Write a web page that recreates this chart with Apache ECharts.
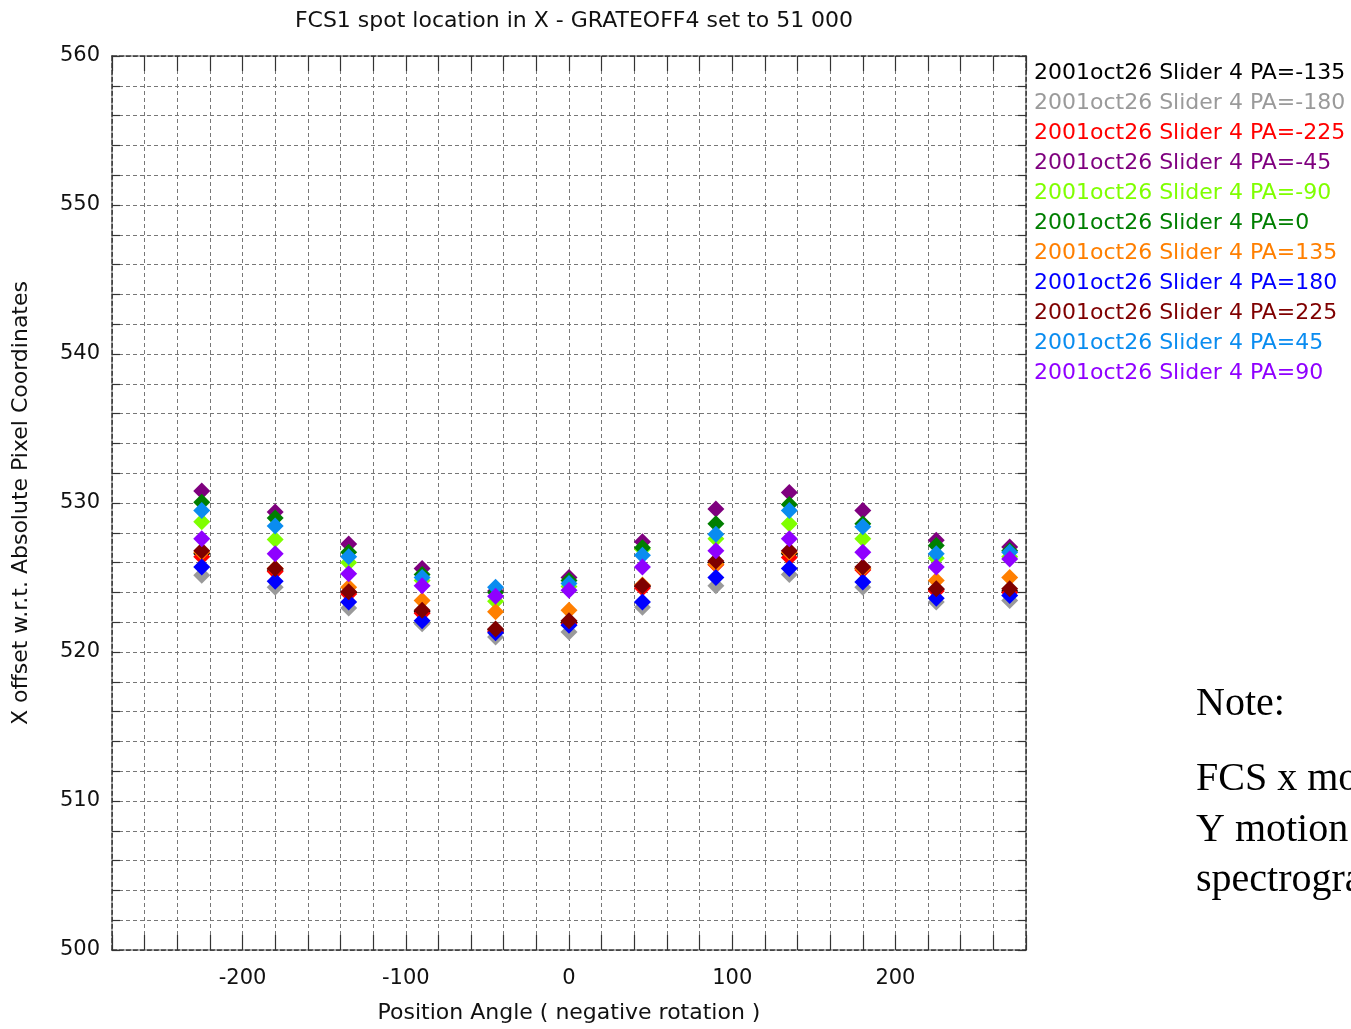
<!DOCTYPE html>
<html>
<head>
<meta charset="utf-8">
<script src="https://cdn.jsdelivr.net/npm/echarts@6/dist/echarts.min.js"></script>
<style>
html,body{margin:0;padding:0;background:#fff;}
#chart{width:1351px;height:1029px;}
</style>
</head>
<body>
<div id="chart"></div>
<script>
// ---- data ----
const positions = [-225, -180, -135, -90, -45, 0, 45, 90, 135, 180, 225, 270];
const seriesNames = [
  '2001oct26 Slider 4 PA=-135',
  '2001oct26 Slider 4 PA=-180',
  '2001oct26 Slider 4 PA=-225',
  '2001oct26 Slider 4 PA=-45',
  '2001oct26 Slider 4 PA=-90',
  '2001oct26 Slider 4 PA=0',
  '2001oct26 Slider 4 PA=135',
  '2001oct26 Slider 4 PA=180',
  '2001oct26 Slider 4 PA=225',
  '2001oct26 Slider 4 PA=45',
  '2001oct26 Slider 4 PA=90'
];
const seriesColors = ['#000000','#9a9a9a','#ff0000','#7f007f','#7fff00','#007f00','#ff7f00','#0000ff','#7f0000','#0a8cf0','#8f00ff'];
const paM135 = [526.6, 525.5, 524.0, 522.7, 521.5, 522.0, 524.4, 526.0, 526.6, 525.6, 524.2, 524.1];
const paM180 = [525.15, 524.35, 522.95, 521.9, 521.0, 521.35, 523.0, 524.45, 525.2, 524.35, 523.35, 523.45];
const paM225 = [526.4, 525.4, 523.9, 522.6, 521.4, 521.9, 524.3, 525.85, 526.35, 525.5, 524.1, 524.0];
const paM45  = [530.8, 529.4, 527.25, 525.6, 524.1, 525.0, 527.4, 529.6, 530.7, 529.5, 527.5, 527.05];
const paM90  = [528.75, 527.55, 526.0, 524.8, 523.4, 524.4, 526.9, 527.6, 528.6, 527.6, 526.3, 526.4];
const pa0    = [530.05, 529.0, 526.7, 525.2, 524.0, 524.8, 527.0, 528.6, 529.9, 528.6, 527.15, 526.8];
const pa135  = [526.7, 525.6, 524.35, 523.45, 522.7, 522.8, 524.5, 525.9, 526.7, 525.6, 524.8, 525.0];
const pa180  = [525.7, 524.75, 523.35, 522.1, 521.3, 521.8, 523.35, 525.0, 525.6, 524.7, 523.6, 523.8];
const pa225  = [526.8, 525.6, 524.05, 522.8, 521.55, 522.1, 524.45, 526.1, 526.8, 525.7, 524.25, 524.25];
const pa45   = [529.5, 528.45, 526.4, 525.0, 524.35, 524.6, 526.5, 527.9, 529.5, 528.4, 526.6, 526.7];
const pa90   = [527.6, 526.6, 525.25, 524.45, 523.75, 524.15, 525.7, 526.8, 527.6, 526.7, 525.7, 526.25];
const seriesValues = [paM135, paM180, paM225, paM45, paM90, pa0, pa135, pa180, pa225, pa45, pa90];
const xTickLabels = [-200, -100, 0, 100, 200];
const yTickLabels = [500, 510, 520, 530, 540, 550, 560];

// ---- chart ----
const font = '"DejaVu Sans", sans-serif';
const chart = echarts.init(document.getElementById('chart'));
const gridLine = {show: true, lineStyle: {color: '#777', type: [4, 3], width: 1}};
const frameLine = {show: true, onZero: false, lineStyle: {color: '#333', width: 1.5, type: [5, 2]}};
const xTick = {show: true, inside: true, length: 15, lineStyle: {color: '#333', width: 1.2}};
const yTick = {show: true, inside: true, length: 8, lineStyle: {color: '#333', width: 1.2}};
const serif = '40px "Liberation Serif", "Times New Roman", serif';

const series = seriesNames.map((n, i) => ({
  name: n,
  type: 'scatter',
  symbol: 'diamond',
  symbolSize: [17, 17],
  itemStyle: {color: seriesColors[i], opacity: 1},
  data: positions.map((p, j) => [p, seriesValues[i][j]]),
  z: 3 + i
}));

chart.setOption({
  animation: false,
  backgroundColor: '#fff',
  title: {
    text: 'FCS1 spot location in X - GRATEOFF4 set to 51 000',
    left: 569, top: 5, textAlign: 'center',
    textStyle: {fontFamily: font, fontSize: 22, fontWeight: 'normal', color: '#111'}
  },
  legend: {
    orient: 'vertical', left: 1029, top: 57,
    icon: 'none', itemWidth: 0, itemHeight: 20, itemGap: 8,
    selectedMode: false,
    textStyle: {fontFamily: font, fontSize: 22, padding: [0, 0, 0, -5]},
    data: seriesNames.map((n, i) => ({name: n, textStyle: {color: seriesColors[i]}}))
  },
  grid: {left: 112, right: 325, top: 56, bottom: 77, containLabel: false},
  xAxis: [{
    type: 'value', min: -280, max: 280, interval: 20,
    axisLine: frameLine, axisTick: xTick, splitLine: gridLine,
    axisLabel: {
      fontFamily: font, fontSize: 21, color: '#111', margin: 18,
      formatter: v => xTickLabels.includes(v) ? String(v) : ''
    },
    name: 'Position Angle ( negative rotation )',
    nameLocation: 'middle', nameGap: 52,
    nameTextStyle: {fontFamily: font, fontSize: 22, color: '#111'}
  }, {
    type: 'value', position: 'top', min: -280, max: 280, interval: 20,
    axisLine: frameLine, axisTick: xTick, splitLine: {show: false}, axisLabel: {show: false}
  }],
  yAxis: [{
    type: 'value', min: 500, max: 560, interval: 2,
    axisLine: frameLine, axisTick: yTick, splitLine: gridLine,
    axisLabel: {
      fontFamily: font, fontSize: 21, color: '#111', margin: 12,
      formatter: v => yTickLabels.includes(v) ? String(v) : ''
    },
    name: 'X offset w.r.t. Absolute Pixel Coordinates',
    nameLocation: 'middle', nameGap: 80, nameRotate: 90,
    nameTextStyle: {fontFamily: font, fontSize: 22, color: '#111'}
  }, {
    type: 'value', position: 'right', min: 500, max: 560, interval: 2,
    axisLine: frameLine, axisTick: yTick, splitLine: {show: false}, axisLabel: {show: false}
  }],
  graphic: [
    {type: 'text', left: 1196, top: 684, style: {text: 'Note:', font: serif, fill: '#000'}},
    {type: 'text', left: 1196, top: 759, style: {text: 'FCS x motion', font: serif, fill: '#000'}},
    {type: 'text', left: 1196, top: 810, style: {text: 'Y motion on', font: serif, fill: '#000'}},
    {type: 'text', left: 1196, top: 860, style: {text: 'spectrograph', font: serif, fill: '#000'}}
  ],
  series: series
});
</script>
</body>
</html>
